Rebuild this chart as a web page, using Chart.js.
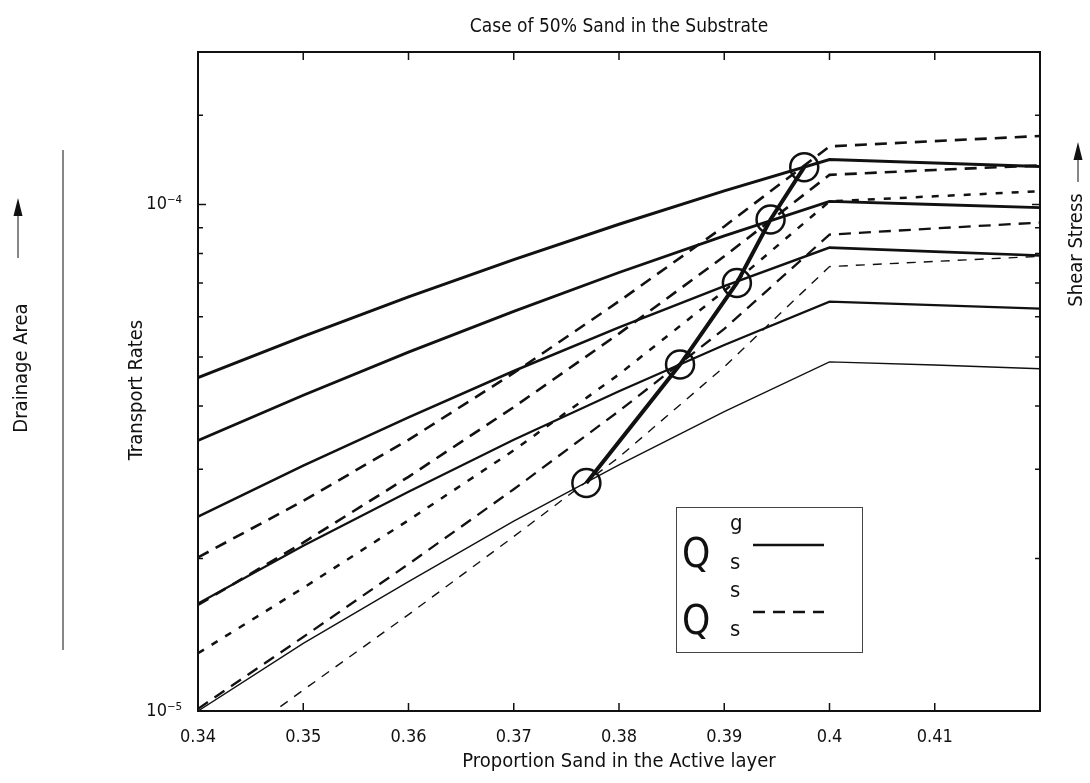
<!DOCTYPE html>
<html>
<head>
<meta charset="utf-8">
<title>Case of 50% Sand in the Substrate</title>
<script src="https://cdn.jsdelivr.net/npm/chart.js@4.4.1/dist/chart.umd.min.js"></script>
<style>
    html, body { margin: 0; padding: 0; background: #fff; }
    #wrap { width: 1090px; height: 783px; position: relative; }
</style>
</head>
<body>
<div id="wrap"><canvas id="transportChart"></canvas></div>
<script>
// proportion of sand in the active layer (x)
const sandFraction = [0.34, 0.35, 0.36, 0.37, 0.38, 0.39, 0.40, 0.41, 0.42];

// gravel transport rates Qs^g, one curve per shear stress level (top = highest)
const gravelRate1 = [4.55e-5, 5.49e-5, 6.57e-5, 7.78e-5, 9.14e-5, 1.064e-4, 1.227e-4, 1.208e-4, 1.189e-4];
const gravelRate2 = [3.42e-5, 4.20e-5, 5.11e-5, 6.15e-5, 7.34e-5, 8.67e-5, 1.014e-4, 1.000e-4, 9.86e-5];
const gravelRate3 = [2.42e-5, 3.05e-5, 3.80e-5, 4.69e-5, 5.72e-5, 6.90e-5, 8.22e-5, 8.07e-5, 7.93e-5];
const gravelRate4 = [1.63e-5, 2.12e-5, 2.71e-5, 3.43e-5, 4.28e-5, 5.28e-5, 6.43e-5, 6.33e-5, 6.23e-5];
const gravelRate5 = [1.00e-5, 1.36e-5, 1.80e-5, 2.37e-5, 3.06e-5, 3.90e-5, 4.89e-5, 4.82e-5, 4.74e-5];

// sand transport rates Qs^s
const sandRate1 = [2.01e-5, 2.60e-5, 3.43e-5, 4.65e-5, 6.44e-5, 9.05e-5, 1.302e-4, 1.334e-4, 1.365e-4];
const sandRate2 = [1.62e-5, 2.15e-5, 2.90e-5, 3.98e-5, 5.56e-5, 7.90e-5, 1.144e-4, 1.170e-4, 1.194e-4];
const sandRate3 = [1.30e-5, 1.75e-5, 2.38e-5, 3.27e-5, 4.62e-5, 6.75e-5, 1.014e-4, 1.038e-4, 1.062e-4];
const sandRate4 = [1.01e-5, 1.40e-5, 1.95e-5, 2.74e-5, 3.91e-5, 5.68e-5, 8.72e-5, 8.97e-5, 9.21e-5];
const sandRate5 = [7.76e-6, 1.10e-5, 1.55e-5, 2.21e-5, 3.17e-5, 4.78e-5, 7.54e-5, 7.72e-5, 7.90e-5];

// points where Qs^g = Qs^s (circles)
const crossingSand = [0.3769, 0.3858, 0.3912, 0.3944, 0.3976];
const crossingRate = [2.82e-5, 4.83e-5, 7.00e-5, 9.34e-5, 1.185e-4];

// axis ticks
const xTickValues = [0.34, 0.35, 0.36, 0.37, 0.38, 0.39, 0.40, 0.41, 0.42];
const xTickLabels = ['0.34', '0.35', '0.36', '0.37', '0.38', '0.39', '0.4', '0.41', ''];
const yTickValues = [1e-5, 1e-4];
const yTickLabels = ['10\u207B\u2075', '10\u207B\u2074'];

const FAMILY = '"Liberation Sans Narrow", "Arial Narrow", "DejaVu Sans Condensed", "Liberation Sans", sans-serif';

function toPoints(values) {
    return sandFraction.map((x, i) => ({ x: x, y: values[i] }));
}

function lineSet(label, values, width, dash) {
    return {
        label: label,
        data: toPoints(values),
        borderColor: '#111',
        borderWidth: width,
        borderDash: dash || [],
        pointRadius: 0,
        fill: false,
        tension: 0
    };
}

// box, inward ticks, legend and side notes (MATLAB look)
const framePlugin = {
    id: 'frame',
    afterDatasetsDraw(chart) {
        const { ctx, chartArea: a, scales: { x, y } } = chart;
        ctx.save();
        ctx.strokeStyle = '#111';
        ctx.lineWidth = 2;
        ctx.strokeRect(a.left, a.top, a.right - a.left, a.bottom - a.top);

        ctx.lineWidth = 1.5;
        ctx.beginPath();
        xTickValues.forEach(v => {
            const px = x.getPixelForValue(v);
            ctx.moveTo(px, a.bottom); ctx.lineTo(px, a.bottom - 8);
            ctx.moveTo(px, a.top); ctx.lineTo(px, a.top + 8);
        });
        y.ticks.forEach(t => {
            const py = y.getPixelForValue(t.value);
            const l = Math.log10(t.value);
            const len = Math.abs(l - Math.round(l)) < 1e-6 ? 8 : 5;
            ctx.moveTo(a.left, py); ctx.lineTo(a.left + len, py);
            ctx.moveTo(a.right, py); ctx.lineTo(a.right - len, py);
        });
        ctx.stroke();
        ctx.restore();
    },
    afterDraw(chart) {
        const { ctx, chartArea: a } = chart;
        const cx = (a.left + a.right) / 2;
        ctx.save();
        ctx.fillStyle = '#111';
        ctx.strokeStyle = '#111';

        // title
        ctx.font = '19px ' + FAMILY;
        ctx.textAlign = 'center';
        ctx.textBaseline = 'middle';
        ctx.fillText('Case of 50% Sand in the Substrate', cx, 27);

        // vertical labels
        const vtext = (str, x0, y0) => {
            ctx.save();
            ctx.translate(x0, y0);
            ctx.rotate(-Math.PI / 2);
            ctx.font = '20px ' + FAMILY;
            ctx.textAlign = 'center';
            ctx.textBaseline = 'middle';
            ctx.fillText(str, 0, 0);
            ctx.restore();
        };
        const upArrow = (x0, tip, base) => {
            ctx.lineWidth = 1;
            ctx.beginPath();
            ctx.moveTo(x0, base); ctx.lineTo(x0, tip + 12);
            ctx.stroke();
            ctx.beginPath();
            ctx.moveTo(x0, tip);
            ctx.lineTo(x0 - 4.5, tip + 18);
            ctx.lineTo(x0 + 4.5, tip + 18);
            ctx.closePath();
            ctx.fill();
        };
        vtext('Transport Rates', 137, 390);
        vtext('Drainage Area', 22, 368);
        upArrow(18, 198, 258);
        vtext('Shear Stress', 1077, 250);
        upArrow(1078, 142, 182);

        ctx.lineWidth = 1;
        ctx.beginPath();
        ctx.moveTo(63, 150); ctx.lineTo(63, 650);
        ctx.stroke();

        // legend box
        const lx = a.left + 478, ly = a.top + 455;
        ctx.strokeStyle = '#444';
        ctx.lineWidth = 1;
        ctx.strokeRect(lx + 0.5, ly + 0.5, 186, 145);
        ctx.strokeStyle = '#111';
        ctx.textAlign = 'left';
        ctx.textBaseline = 'alphabetic';
        const entry = (sup, row, dash) => {
            ctx.font = '40px ' + FAMILY;
            ctx.fillText('Q', lx + 6, ly + 60 + row);
            ctx.font = '22px ' + FAMILY;
            ctx.fillText(sup, lx + 54, ly + 23 + row);
            ctx.fillText('s', lx + 54, ly + 62 + row);
            ctx.lineWidth = 2.5;
            ctx.setLineDash(dash);
            ctx.beginPath();
            ctx.moveTo(lx + 77, ly + 38 + row);
            ctx.lineTo(lx + 148, ly + 38 + row);
            ctx.stroke();
            ctx.setLineDash([]);
        };
        entry('g', 0, []);
        entry('s', 67, [12, 8]);
        ctx.restore();
    }
};

document.addEventListener('DOMContentLoaded', () => {
    const ctx = document.getElementById('transportChart').getContext('2d');
    const transportChart = new Chart(ctx, {
        type: 'line',
        data: {
            datasets: [
                {
                    label: 'Qs^g = Qs^s',
                    data: crossingSand.map((x, i) => ({ x: x, y: crossingRate[i] })),
                    borderColor: '#111',
                    borderWidth: 4,
                    pointRadius: 14,
                    pointBorderWidth: 2.5,
                    pointBorderColor: '#111',
                    pointBackgroundColor: 'rgba(0,0,0,0)',
                    fill: false,
                    tension: 0
                },
                lineSet('Qs^g 1', gravelRate1, 3),
                lineSet('Qs^g 2', gravelRate2, 2.8),
                lineSet('Qs^g 3', gravelRate3, 2.6),
                lineSet('Qs^g 4', gravelRate4, 2.2),
                lineSet('Qs^g 5', gravelRate5, 1.4),
                lineSet('Qs^s 1', sandRate1, 2.6, [12, 8]),
                lineSet('Qs^s 2', sandRate2, 2.6, [12, 8]),
                lineSet('Qs^s 3', sandRate3, 2.5, [7, 9]),
                lineSet('Qs^s 4', sandRate4, 2.3, [12, 8]),
                lineSet('Qs^s 5', sandRate5, 1.4, [9, 8])
            ]
        },
        options: {
            responsive: true,
            maintainAspectRatio: false,
            animation: false,
            layout: {
                padding: { top: 52, right: 50, left: 0, bottom: 0 }
            },
            scales: {
                x: {
                    type: 'linear',
                    min: 0.34,
                    max: 0.42,
                    afterFit: scale => { scale.height = 72; },
                    afterBuildTicks: scale => {
                        scale.ticks = xTickValues.map(v => ({ value: v }));
                    },
                    grid: { display: false },
                    border: { display: false },
                    ticks: {
                        autoSkip: false,
                        maxRotation: 0,
                        padding: 8,
                        color: '#111',
                        font: { size: 18, family: FAMILY },
                        callback: function(value) {
                            const i = xTickValues.findIndex(v => Math.abs(v - value) < 1e-9);
                            return i >= 0 ? xTickLabels[i] : '';
                        }
                    },
                    title: {
                        display: true,
                        text: 'Proportion Sand in the Active layer',
                        color: '#111',
                        font: { size: 20, family: FAMILY },
                        padding: { top: 0, bottom: 9 }
                    }
                },
                y: {
                    type: 'logarithmic',
                    min: 1e-5,
                    max: 2e-4,
                    afterFit: scale => { scale.width = 198; },
                    grid: { display: false },
                    border: { display: false },
                    ticks: {
                        autoSkip: false,
                        padding: 8,
                        color: '#111',
                        font: { size: 18, family: FAMILY },
                        callback: function(value) {
                            const i = yTickValues.findIndex(v => Math.abs(v - value) / v < 1e-6);
                            return i >= 0 ? yTickLabels[i] : '';
                        }
                    }
                }
            },
            plugins: {
                legend: { display: false },
                tooltip: { enabled: false }
            }
        },
        plugins: [framePlugin]
    });
});
</script>
</body>
</html>
